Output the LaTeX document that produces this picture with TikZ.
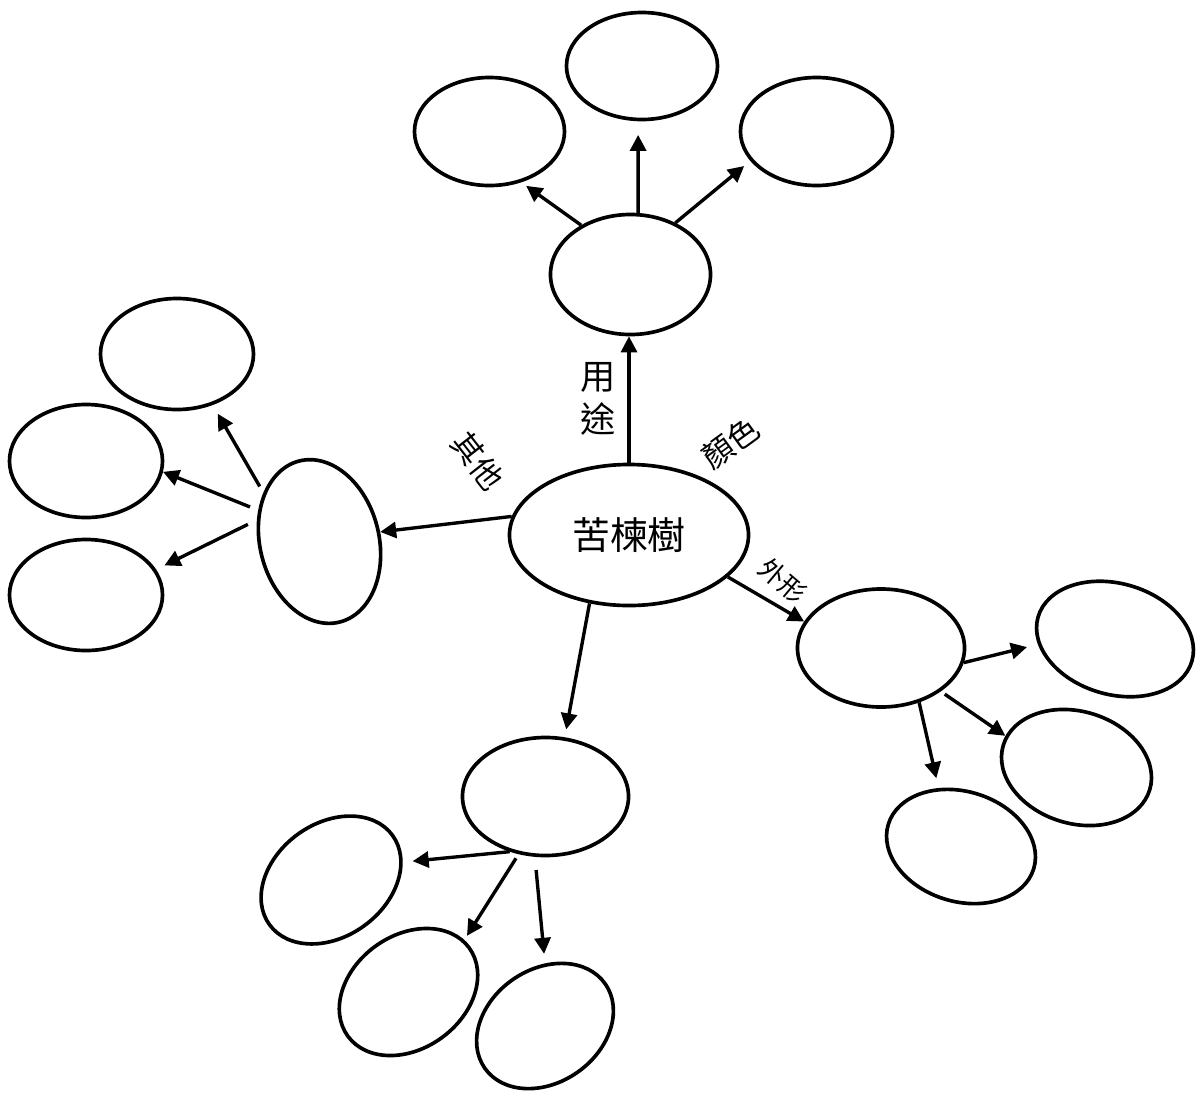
\documentclass[tikz,border=0pt]{standalone}
\usepackage{fontspec}
\newfontfamily\cjk{Noto Sans CJK TC}
\usetikzlibrary{shapes.geometric,arrows.meta}
\begin{document}
\begin{tikzpicture}[x=0.025cm,y=-0.025cm,
  bub/.style={draw=black,line width=2.6pt,ellipse,inner sep=0pt},
  arr/.style={line width=2.4pt,-{Triangle[length=0.4cm,width=0.4cm]}},
  lab/.style={font=\cjk\fontsize{22pt}{27pt}\selectfont,inner sep=0pt},
  smalllab/.style={font=\cjk\fontsize{18.5pt}{22pt}\selectfont,inner sep=0pt}]
\fill[white] (0,0) rectangle (1198,1094);
\useasboundingbox (0,0) rectangle (1198,1094);
\clip (0,0) rectangle (1198,1094);
% centre
\node[bub,minimum width=5.975cm,minimum height=3.525cm,
      font=\cjk\fontsize{27pt}{32pt}\selectfont] (C) at (629,535) {苦楝樹};
% top group
\node[bub,minimum width=4.0cm,minimum height=3.0cm] (U) at (630.5,274.5) {};
\node[bub,minimum width=3.75cm,minimum height=2.7cm] (T1) at (489.5,131.5) {};
\node[bub,minimum width=3.775cm,minimum height=2.675cm] (T2) at (642,66) {};
\node[bub,minimum width=3.8cm,minimum height=2.7cm] (T3) at (816.5,131.5) {};
% left group
\node[bub,minimum width=2.975cm,minimum height=4.15cm,rotate=14] (O) at (319.5,541.5) {};
\node[bub,minimum width=3.825cm,minimum height=2.775cm] (L1) at (177,354) {};
\node[bub,minimum width=3.825cm,minimum height=2.825cm] (L2) at (86,461) {};
\node[bub,minimum width=3.825cm,minimum height=2.775cm] (L3) at (86,595) {};
% right group
\node[bub,minimum width=4.175cm,minimum height=2.95cm] (W) at (881,648) {};
\node[bub,minimum width=4.0cm,minimum height=2.775cm,rotate=-16] (R1) at (1115,639) {};
\node[bub,minimum width=3.825cm,minimum height=2.8cm,rotate=-17] (R2) at (1076.5,767.5) {};
\node[bub,minimum width=3.8cm,minimum height=2.75cm,rotate=-17] (R3) at (961,846.5) {};
% bottom group
\node[bub,minimum width=4.15cm,minimum height=2.95cm] (B) at (545.5,796.5) {};
\node[bub,minimum width=3.8cm,minimum height=2.825cm,rotate=36] (B1) at (331,880) {};
\node[bub,minimum width=3.75cm,minimum height=2.825cm,rotate=36] (B2) at (408.5,992) {};
\node[bub,minimum width=3.675cm,minimum height=2.825cm,rotate=35] (B3) at (545,1026) {};
% labels
\node[lab,align=center,font=\cjk\fontsize{25pt}{31pt}\selectfont] (l1) at (598,399) {用\\途};
\node[lab,rotate=-52] (l2) at (478,461) {其他};
\node[lab,rotate=36] (l3) at (731,443) {顏色};
\node[smalllab,rotate=-40] (l4) at (783,581) {外形};
% connectors from centre
\draw[arr] (C.north) -- (U.south -| C.north);
\draw[arr] (C.171.4) -- (O.-5);
\draw[arr] (C.-23.5) -- (W.161);
\draw[arr,shorten >=0.2cm] (C.240.3) -- (B.72.6);
% top group
\draw[arr,shorten >=0.15cm] (U.135) -- (T1.-58.4);
\draw[arr,shorten >=0.34cm] (U.83) -- (T2.266.6);
\draw[arr,shorten >=0.2cm] (U.49.7) -- (T3.204.4);
% left group
\draw[arr,shorten <=0.18cm,shorten >=0.25cm] (O.125.6) -- (L1.-55.4);
\draw[arr,shorten <=0.22cm] (O.139.6) -- (L2.-8.1);
\draw[arr,shorten <=0.25cm,shorten >=0.23cm] (O.147.6) -- (L3.20);
% right group
\draw[arr,shorten >=0.28cm] (W.-10.1) -- (R1.200.7);
\draw[arr,shorten <=0.12cm] (W.-36) -- (R2.173.9);
\draw[arr,shorten >=0.25cm] (W.-55.4) -- (R3.128.6);
% bottom group
\draw[arr,shorten >=0.25cm] (B.237.1) -- (B1.-22.6);
\draw[arr,shorten <=0.12cm,shorten >=0.12cm] (B.245.6) -- (B2.7.7);
\draw[arr,shorten <=0.33cm,shorten >=0.24cm] (B.260.1) -- (B3.55.8);
\end{tikzpicture}
\end{document}
